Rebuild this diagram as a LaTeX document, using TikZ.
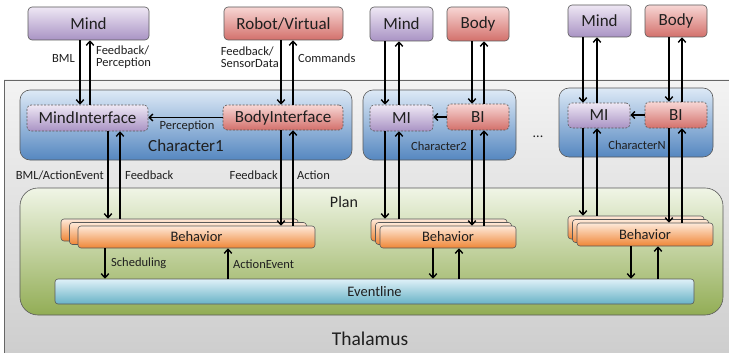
\documentclass[tikz,border=0pt]{standalone}
\usepackage{fontspec}
\setmainfont{Carlito}
\usetikzlibrary{arrows.meta}
\definecolor{purT}{HTML}{EEE7F4}\definecolor{purB}{HTML}{A993C4}
\definecolor{redT}{HTML}{F7D6D4}\definecolor{redB}{HTML}{D3706B}
\definecolor{bluT}{HTML}{DDE9F6}\definecolor{bluB}{HTML}{5587C0}
\definecolor{grnT}{HTML}{F0F5E6}\definecolor{grnB}{HTML}{92AD55}
\definecolor{oraT}{HTML}{FEE9D9}\definecolor{oraB}{HTML}{EF8636}
\definecolor{cyaT}{HTML}{DFF1F8}\definecolor{cyaB}{HTML}{68B2C6}
\definecolor{thaT}{HTML}{F3F3F3}\definecolor{thaB}{HTML}{CDCDCD}
\definecolor{txt}{HTML}{1F1F1F}
\begin{document}
\begin{tikzpicture}[x=1pt,y=-1pt,
  every node/.style={text=txt, inner sep=0pt},
  bx/.style={draw=black!65, line width=0.6pt, rounded corners=4pt},
  mindbox/.style={bx, top color=purT, bottom color=purB, font=\fontsize{17}{19}\selectfont},
  bodybox/.style={bx, top color=redT, bottom color=redB, font=\fontsize{17}{19}\selectfont},
  mif/.style={mindbox, dashed, dash pattern=on 2pt off 1.5pt},
  bif/.style={bodybox, dashed, dash pattern=on 2pt off 1.5pt},
  charbox/.style={draw=black!65, line width=0.6pt, rounded corners=10pt, top color=bluT, bottom color=bluB},
  behbox/.style={bx, rounded corners=3pt, top color=oraT, bottom color=oraB, font=\fontsize{14.5}{16}\selectfont},
  lbl/.style={font=\fontsize{12.5}{11.5}\selectfont, align=left},
  arr/.style={line width=1.4pt, draw=black, -{Straight Barb[length=4pt,width=7.5pt,line width=1.4pt]}},
  per/.style={line width=1.4pt, draw=black, -{Straight Barb[length=3.5pt,width=7pt,line width=1.4pt]}}
]
\useasboundingbox (0,0) rectangle (729,353);
% Thalamus
\begin{scope}
\clip (0,0) rectangle (729,353);
\fill[top color=thaT, bottom color=thaB] (4,80) rectangle (740,360);
\draw[black!60, line width=0.8pt] (4,360) -- (4,80) -- (740,80);
\end{scope}
\node[font=\fontsize{19.5}{22}\selectfont] (thal) at (370,339) {Thalamus};

% top boxes
\node[mindbox, minimum width=121, minimum height=33] (mind1) at (88.5,23.5) {Mind};
\node[bodybox, minimum width=119, minimum height=33] (robot) at (283.5,23.5) {Robot/Virtual};
\node[mindbox, minimum width=63, minimum height=34] (mind2) at (401.5,24) {Mind};
\node[bodybox, minimum width=62, minimum height=34] (body2) at (478,24) {Body};
\node[mindbox, minimum width=63, minimum height=32] (mind3) at (599.5,21) {Mind};
\node[bodybox, minimum width=62, minimum height=32] (body3) at (676,21) {Body};

% characters
\node[charbox, minimum width=332, minimum height=70] (char1) at (186,125) {};
\node[charbox, minimum width=153, minimum height=70] (char2) at (439.5,125) {};
\node[charbox, minimum width=154, minimum height=69] (charN) at (636,122.5) {};
\node[font=\fontsize{17}{19}\selectfont] (c1lbl) at (186,146) {Character1};
\node[font=\fontsize{12.5}{13}\selectfont] (c2lbl) at (439,146) {Character2};
\node[font=\fontsize{12.5}{13}\selectfont] (cNlbl) at (637,145) {CharacterN};
\node[font=\fontsize{14}{14}\selectfont] (dots) at (538,137) {...};

\node[mif, minimum width=121, minimum height=26] (mi1) at (87.5,118) {MindInterface};
\node[bif, minimum width=120, minimum height=25] (bi1) at (283,117.5) {BodyInterface};
\node[mif, minimum width=63, minimum height=26] (mi2) at (401.5,118) {MI};
\node[bif, minimum width=62, minimum height=26] (bi2) at (478,117) {BI};
\node[mif, minimum width=62, minimum height=25] (mi3) at (599,115.5) {MI};
\node[bif, minimum width=62, minimum height=26] (bi3) at (676,115) {BI};

\draw[per] (bi1.west) -- (mi1.east |- bi1.west);
\draw[per] (bi2.west) -- (mi2.east |- bi2.west);
\draw[per] (bi3.west) -- (mi3.east |- bi3.west);
\node[lbl] (perlbl) at (187,126.5) {Perception};

% plan
\node[draw=black!65, line width=0.6pt, rounded corners=18pt, top color=grnT, bottom color=grnB,
      minimum width=703, minimum height=127] (plan) at (371.5,251.5) {};
\node[font=\fontsize{16}{18}\selectfont] (planlbl) at (344,202) {Plan};
\node[bx, rounded corners=3pt, top color=cyaT, bottom color=cyaB, minimum width=639, minimum height=25,
      font=\fontsize{14.5}{16}\selectfont] (event) at (374.5,291.5) {Eventline};

% behaviors
\node[behbox, minimum width=237, minimum height=22] (b1c) at (179.5,230) {};
\node[behbox, minimum width=237, minimum height=22] (b1b) at (188,233.5) {};
\node[behbox, minimum width=237, minimum height=22] (b1a) at (196.5,237) {Behavior};
\node[behbox, minimum width=136, minimum height=22] (b2c) at (439,230) {};
\node[behbox, minimum width=136, minimum height=22] (b2b) at (443.5,233.5) {};
\node[behbox, minimum width=136, minimum height=22] (b2a) at (448,237) {Behavior};
\node[behbox, minimum width=136, minimum height=23] (b3c) at (636,227.5) {};
\node[behbox, minimum width=136, minimum height=23] (b3b) at (640.5,231) {};
\node[behbox, minimum width=136, minimum height=23] (b3a) at (645,234.5) {Behavior};

% x positions of vertical connectors
\foreach \n/\x in {a/80,b/90,c/281,d/293,e/385,f/399,g/472,h/484,i/583,j/597,k/669,l/682,
                   m/108,n/120,o/105,p/228,q/433,r/459,s/631,t/658}
  \coordinate (x\n) at (\x,0);

% top connectors
\draw[arr] (mind1.south -| xa) -- (mi1.north -| xa);
\draw[arr] (mi1.north -| xb) -- (mind1.south -| xb);
\draw[arr] (robot.south -| xc) -- (bi1.north -| xc);
\draw[arr] (bi1.north -| xd) -- (robot.south -| xd);
\draw[arr] (mind2.south -| xe) -- (mi2.north -| xe);
\draw[arr] (mi2.north -| xf) -- (mind2.south -| xf);
\draw[arr] (body2.south -| xg) -- (bi2.north -| xg);
\draw[arr] (bi2.north -| xh) -- (body2.south -| xh);
\draw[arr] (mind3.south -| xi) -- (mi3.north -| xi);
\draw[arr] (mi3.north -| xj) -- (mind3.south -| xj);
\draw[arr] (body3.south -| xk) -- (bi3.north -| xk);
\draw[arr] (bi3.north -| xl) -- (body3.south -| xl);

% interface to behavior connectors
\draw[arr] (mi1.south -| xm) -- (b1c.north -| xm);
\draw[arr] (b1c.north -| xn) -- (mi1.south -| xn);
\draw[arr] (bi1.south -| xc) -- (b1a.north -| xc);
\draw[arr] (b1a.north -| xd) -- (bi1.south -| xd);
\draw[arr] (mi2.south -| xe) -- (b2c.north -| xe);
\draw[arr] (b2c.north -| xf) -- (mi2.south -| xf);
\draw[arr] (bi2.south -| xg) -- (b2a.north -| xg);
\draw[arr] (b2a.north -| xh) -- (bi2.south -| xh);
\draw[arr] (mi3.south -| xi) -- (b3c.north -| xi);
\draw[arr] (b3c.north -| xj) -- (mi3.south -| xj);
\draw[arr] (bi3.south -| xk) -- (b3a.north -| xk);
\draw[arr] (b3a.north -| xl) -- (bi3.south -| xl);

% behavior to eventline
\draw[arr] (b1a.south -| xo) -- (event.north -| xo);
\draw[arr] (event.north -| xp) -- (b1a.south -| xp);
\draw[arr] (b2a.south -| xq) -- (event.north -| xq);
\draw[arr] (event.north -| xr) -- (b2a.south -| xr);
\draw[arr] (b3a.south -| xs) -- (event.north -| xs);
\draw[arr] (event.north -| xt) -- (b3a.south -| xt);

% labels
\node[lbl, anchor=east] (bml) at (75,58) {BML};
\node[lbl, anchor=west] (fbp) at (96,57) {Feedback/\\Perception};
\node[lbl, anchor=east] (fbs) at (279,57) {Feedback/\\SensorData};
\node[lbl, anchor=west] (cmd) at (298,58) {Commands};
\node[lbl, anchor=east] (bmlae) at (104,175) {BML/ActionEvent};
\node[lbl, anchor=west] (fb1) at (125,175) {Feedback};
\node[lbl, anchor=east] (fb2) at (278,175) {Feedback};
\node[lbl, anchor=west] (act) at (297,175) {Action};
\node[lbl, anchor=west] (sched) at (111,263) {Scheduling};
\node[lbl, anchor=west] (ae) at (233,264) {ActionEvent};
\end{tikzpicture}
\end{document}
